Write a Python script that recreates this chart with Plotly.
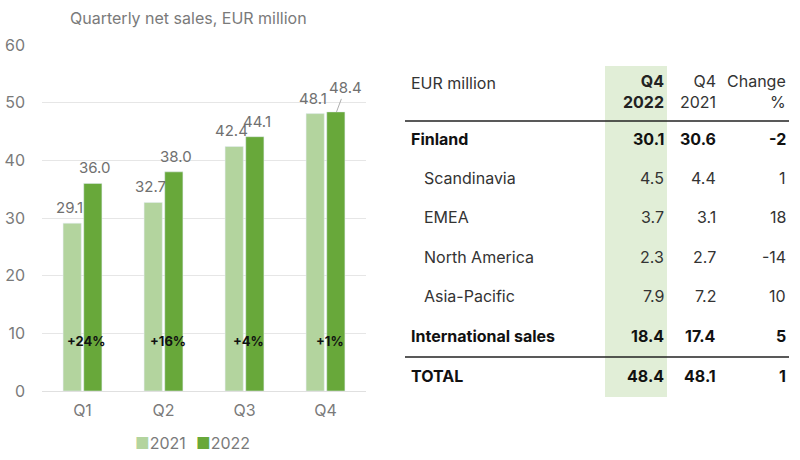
import plotly.graph_objects as go

# ---- chart data ----
quarters = ["Q1", "Q2", "Q3", "Q4"]
sales_2021 = [29.1, 32.7, 42.4, 48.1]
sales_2022 = [36.0, 38.0, 44.1, 48.4]
growth_labels = ["+24%", "+16%", "+4%", "+1%"]
y_ticks = [0, 10, 20, 30, 40, 50, 60]
series_names = ["2021", "2022"]

# ---- table data ----
table_header_1 = ["EUR million", "Q4", "Q4", "Change"]
table_header_2 = ["", "2022", "2021", "%"]
row_labels = ["Finland", "Scandinavia", "EMEA", "North America", "Asia-Pacific",
              "International sales", "TOTAL"]
q4_2022 = ["30.1", "4.5", "3.7", "2.3", "7.9", "18.4", "48.4"]
q4_2021 = ["30.6", "4.4", "3.1", "2.7", "7.2", "17.4", "48.1"]
change_pct = ["-2", "1", "18", "-14", "10", "5", "1"]
row_bold = [True, False, False, False, False, True, True]

W, H = 800, 460
FONT = "Inter, Liberation Sans, Arial, sans-serif"
LIGHT = "#b3d49e"
DARK = "#68a83a"
GRAY = "#707070"
AXGRAY = "#7a7a7a"

def px(x):
    return x / W

def py(y):
    return 1 - y / H

fig = go.Figure()
fig.add_trace(go.Bar(name=series_names[0], x=quarters, y=sales_2021, marker_color=LIGHT))
fig.add_trace(go.Bar(name=series_names[1], x=quarters, y=sales_2022, marker_color=DARK))

ann = []
# title
ann.append(dict(text="Quarterly net sales, EUR million", x=px(188), y=py(18),
                xref="paper", yref="paper", showarrow=False, xanchor="center", yanchor="middle",
                font=dict(size=16, color=AXGRAY, family=FONT)))
# value labels
for i, q in enumerate(quarters):
    ann.append(dict(text=f"{sales_2021[i]:.1f}", x=q, y=sales_2021[i], xref="x", yref="y",
                    xshift=-13, yshift=4, yanchor="bottom", showarrow=False,
                    font=dict(size=15, color=GRAY, family=FONT)))
    if i < 3:
        ann.append(dict(text=f"{sales_2022[i]:.1f}", x=q, y=sales_2022[i], xref="x", yref="y",
                        xshift=12, yshift=4, yanchor="bottom", showarrow=False,
                        font=dict(size=15, color=GRAY, family=FONT)))
    else:
        ann.append(dict(text=f"{sales_2022[i]:.1f}", x=q, y=sales_2022[i], xref="x", yref="y",
                        xshift=11, showarrow=True, arrowhead=0, arrowwidth=0.8,
                        arrowcolor="#999999", ax=9, ay=-24, standoff=0,
                        font=dict(size=15, color=GRAY, family=FONT)))
    ann.append(dict(text=f"<b>{growth_labels[i]}</b>", x=q, y=8.7, xref="x", yref="y",
                    xshift=4, showarrow=False, yanchor="middle",
                    font=dict(size=13, color="#111111", family=FONT)))

# legend (drawn as text with coloured squares)
ann.append(dict(text=f"<span style='color:{LIGHT}'>■</span>{series_names[0]}",
                x=px(133), y=py(443), xref="paper", yref="paper", xanchor="left",
                yanchor="middle", showarrow=False, font=dict(size=16, color=AXGRAY, family=FONT)))
ann.append(dict(text=f"<span style='color:{DARK}'>■</span>{series_names[1]}",
                x=px(194), y=py(443), xref="paper", yref="paper", xanchor="left",
                yanchor="middle", showarrow=False, font=dict(size=16, color=AXGRAY, family=FONT)))

# table
TS = 16
col_right = [None, 666, 718, 788]
ann.append(dict(text=table_header_1[0], x=px(409), y=py(83), xref="paper", yref="paper",
                xanchor="left", yanchor="middle", showarrow=False,
                font=dict(size=TS, color="#333333", family=FONT)))
for c in range(1, 4):
    bold = c == 1
    txt = f"{table_header_1[c]}<br>{table_header_2[c]}"
    ann.append(dict(text=f"<b>{txt}</b>" if bold else txt, x=px(col_right[c]), y=py(92),
                    xref="paper", yref="paper", xanchor="right", yanchor="middle",
                    align="right", showarrow=False,
                    font=dict(size=TS, color="#222222" if bold else "#333333", family=FONT)))

row_y = [139, 178, 217, 257, 296, 336, 376]
for r, lab in enumerate(row_labels):
    b = row_bold[r]
    xl = 409 if b else 422
    color = "#111111" if b else "#333333"
    ann.append(dict(text=f"<b>{lab}</b>" if b else lab, x=px(xl), y=py(row_y[r]),
                    xref="paper", yref="paper", xanchor="left", yanchor="middle",
                    showarrow=False, font=dict(size=TS, color=color, family=FONT)))
    for c, vals in ((1, q4_2022), (2, q4_2021), (3, change_pct)):
        v = vals[r]
        ann.append(dict(text=f"<b>{v}</b>" if b else v, x=px(col_right[c]), y=py(row_y[r]),
                        xref="paper", yref="paper", xanchor="right", yanchor="middle",
                        showarrow=False, font=dict(size=TS, color=color, family=FONT)))

shapes = [
    dict(type="rect", xref="paper", yref="paper", x0=px(605), x1=px(667), y0=py(397), y1=py(66),
         fillcolor="#e1eed7", line=dict(width=0), layer="below"),
    dict(type="line", xref="paper", yref="paper", x0=px(405), x1=px(789), y0=py(121), y1=py(121),
         line=dict(color="#222222", width=1.3)),
    dict(type="line", xref="paper", yref="paper", x0=px(405), x1=px(789), y0=py(357), y1=py(357),
         line=dict(color="#222222", width=1.3)),
]

fig.update_layout(
    width=W, height=H,
    margin=dict(l=0, r=0, t=0, b=0, autoexpand=False),
    paper_bgcolor="white", plot_bgcolor="white",
    barmode="group", bargap=0.49, bargroupgap=0.12,
    showlegend=False,
    font=dict(family=FONT, size=16, color=GRAY),
    xaxis=dict(domain=[px(42), px(366)], showgrid=False, showline=False, ticks="",
               automargin=False, ticklabelstandoff=8, tickfont=dict(size=16, color=AXGRAY)),
    yaxis=dict(domain=[py(391), py(45)], range=[0, 60], tickvals=y_ticks,
               showgrid=True, gridcolor="#e6e6e6", gridwidth=1, zeroline=True,
               zerolinecolor="#e0e0e0", zerolinewidth=1, ticks="", ticklabelstandoff=16,
               automargin=False, tickfont=dict(size=16, color=AXGRAY)),
    annotations=ann,
    shapes=shapes,
)
fig.write_html("out.html", config={"displayModeBar": False},
               post_script="document.body.style.margin='0';")
